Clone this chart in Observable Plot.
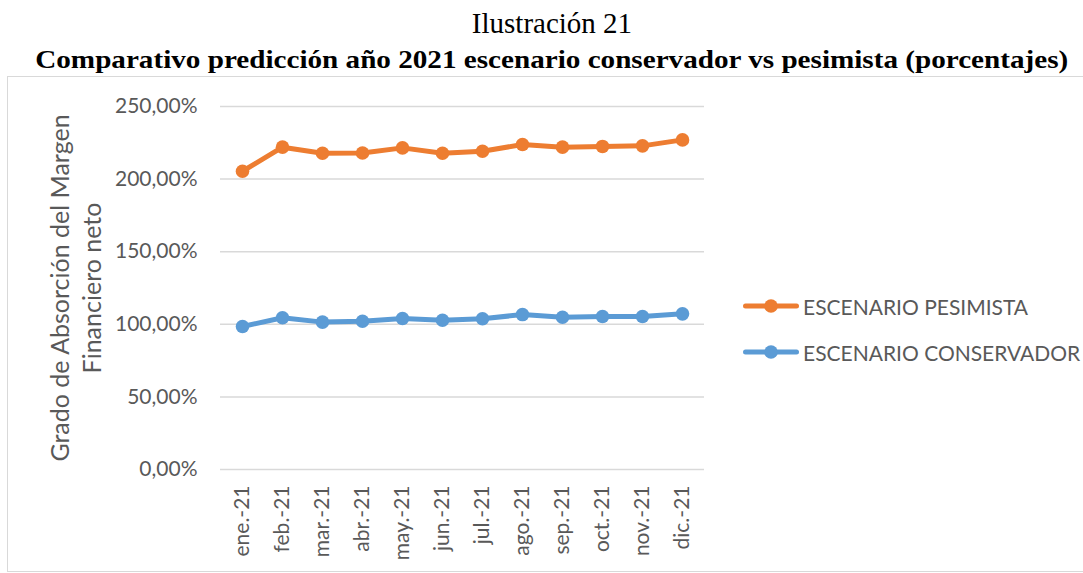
<!DOCTYPE html>
<html>
<head>
<meta charset="utf-8">
<script src="https://cdn.jsdelivr.net/npm/d3@7"></script>
<script src="https://cdn.jsdelivr.net/npm/@observablehq/plot@0.6"></script>
<style>
  html, body { margin: 0; padding: 0; background: #fff; width: 1083px; height: 573px; overflow: hidden; position: relative; }
  .t1 { position: absolute; left: 0; width: 1104px; top: 6px; text-align: center; font-family: "Liberation Serif", "Times New Roman", serif; font-size: 29px; line-height: 34px; color: #000; white-space: nowrap; }
  .t2 { position: absolute; left: 0; width: 1104px; top: 44px; text-align: center; font-family: "Liberation Serif", "Times New Roman", serif; font-weight: bold; font-size: 26px; line-height: 32px; color: #000; white-space: nowrap; }
  .frame { position: absolute; left: 7px; top: 76px; width: 1200px; height: 494px; border: 1.5px solid #d9d9d9; border-right: none; }
  #chart { position: absolute; left: 8px; top: 77px; }
  .legend { position: absolute; left: 743px; font-family: Lato, "Open Sans", sans-serif; font-size: 21px; color: #595959; display: flex; align-items: center; height: 26px; white-space: nowrap; }
  .legend svg { margin-right: 4px; }
</style>
</head>
<body>
<div class="t1">Ilustración 21</div>
<div class="t2"><span id="t2">Comparativo predicción año 2021 escenario conservador vs pesimista (porcentajes)</span></div>
<div class="frame"></div>
<div id="chart"></div>
<div id="legend"></div>
<script>
const months = ["ene.-21","feb.-21","mar.-21","abr.-21","may.-21","jun.-21","jul.-21","ago.-21","sep.-21","oct.-21","nov.-21","dic.-21"];
const pesimista = [2.054, 2.220, 2.178, 2.180, 2.215, 2.178, 2.192, 2.238, 2.220, 2.225, 2.229, 2.270];
const conservador = [0.985, 1.045, 1.015, 1.021, 1.040, 1.028, 1.038, 1.067, 1.049, 1.054, 1.054, 1.072];
const seriesNames = ["ESCENARIO PESIMISTA", "ESCENARIO CONSERVADOR"];
const seriesColors = ["#ED7D31", "#5B9BD5"];
const yTicks = [0, 0.5, 1, 1.5, 2, 2.5];
const yTitle = "Grado de Absorción del Margen\nFinanciero neto";

const data = [];
months.forEach((m, i) => {
  data.push({month: m, value: pesimista[i], series: seriesNames[0]});
  data.push({month: m, value: conservador[i], series: seriesNames[1]});
});

const fmt = v => (v * 100).toFixed(2).replace(".", ",") + "%";

const chart = Plot.plot({
  width: 1075,
  height: 494,
  marginLeft: 212,
  marginRight: 379,
  marginTop: 29,
  marginBottom: 102,
  style: {fontFamily: "Lato, 'Open Sans', sans-serif", fontSize: "21px", color: "#595959", background: "transparent", overflow: "visible"},
  x: {type: "point", domain: months, padding: 0.5, label: null},
  y: {domain: [0, 2.5], label: null},
  color: {domain: seriesNames, range: seriesColors},
  marks: [
    Plot.gridY(yTicks, {stroke: "#d9d9d9", strokeOpacity: 1, strokeWidth: 1.5}),
    Plot.axisY(yTicks, {tickSize: 0, tickPadding: 23, tickFormat: fmt, fontSize: 21, fill: "#595959", label: null}),
    Plot.axisX(months, {tickSize: 0, tickPadding: 16, tickRotate: -90, fontSize: 21, fill: "#595959", label: null}),
    Plot.text([yTitle], {frameAnchor: "left", textAnchor: "middle", lineAnchor: "middle", rotate: -90, dx: -146, fontSize: 25, fill: "#595959", lineHeight: 1.28, text: d => d}),
    Plot.line(data, {x: "month", y: "value", z: "series", stroke: "series", strokeWidth: 5, strokeLinejoin: "round", strokeLinecap: "round"}),
    Plot.dot(data, {x: "month", y: "value", fill: "series", r: 6.8, stroke: "none"})
  ]
});
document.getElementById("chart").appendChild(chart);

// legend
const leg = document.getElementById("legend");
const legTops = [293, 339];
seriesNames.forEach((name, i) => {
  const row = document.createElement("div");
  row.className = "legend";
  row.style.top = legTops[i] + "px";
  const c = seriesColors[i];
  row.innerHTML = `<svg width="56" height="16"><line x1="2.5" x2="53.5" y1="8" y2="8" stroke="${c}" stroke-width="5" stroke-linecap="round"/><circle cx="28" cy="8" r="6.8" fill="${c}"/></svg><span>${name}</span>`;
  leg.appendChild(row);
});

// fit bold title width to reference span
const t2 = document.getElementById("t2");
const w = t2.getBoundingClientRect().width;
const target = 1033;
t2.style.display = "inline-block";
t2.style.transform = `scaleX(${target / w})`;
</script>
</body>
</html>
